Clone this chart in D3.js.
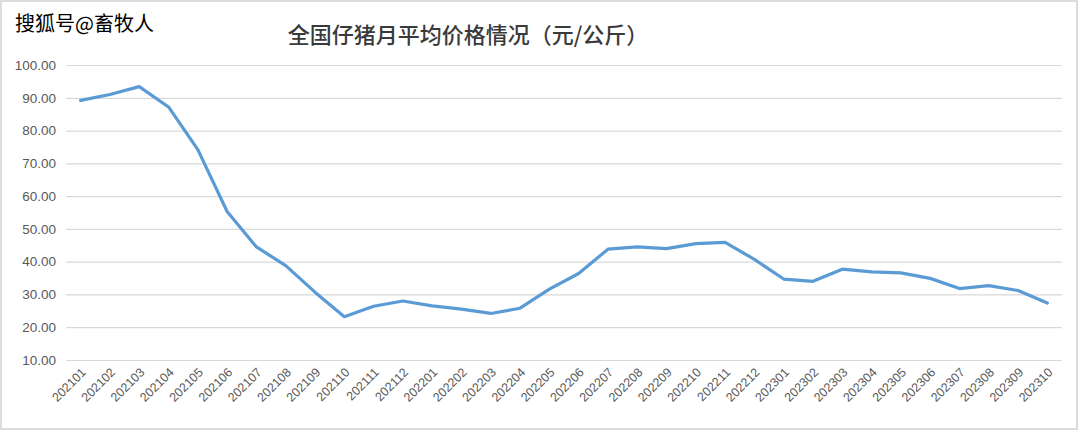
<!DOCTYPE html>
<html>
<head>
<meta charset="utf-8">
<script src="https://cdn.jsdelivr.net/npm/d3@7"></script>
<style>
  html, body { margin: 0; padding: 0; background: #fff; }
  svg { display: block; }
</style>
</head>
<body>
<svg id="chart" width="1080" height="432"></svg>
<script>
const title = "全国仔猪月平均价格情况（元/公斤）";
const watermark = "搜狐号@畜牧人";
const months = ["202101","202102","202103","202104","202105","202106","202107","202108","202109","202110","202111","202112",
  "202201","202202","202203","202204","202205","202206","202207","202208","202209","202210","202211","202212",
  "202301","202302","202303","202304","202305","202306","202307","202308","202309","202310"];
const prices = [89.2, 91.0, 93.4, 87.2, 74.2, 55.3, 44.5, 38.8, 30.7, 23.2, 26.4, 28.0,
  26.5, 25.5, 24.2, 25.8, 31.6, 36.4, 43.8, 44.5, 44.0, 45.5, 45.9, 40.7,
  34.7, 34.0, 37.7, 36.9, 36.6, 34.9, 31.8, 32.7, 31.2, 27.4];
const yTicks = [10, 20, 30, 40, 50, 60, 70, 80, 90, 100];

const svg = d3.select("#chart");
const W = 1080, H = 432;
const plot = { left: 66, right: 1062, top: 65, bottom: 360 };

// outer border
svg.append("rect").attr("x", 1).attr("y", 1).attr("width", W - 4).attr("height", H - 4)
  .attr("fill", "#fff").attr("stroke", "#dcdcdc").attr("stroke-width", 2);

const x = d3.scaleBand().domain(months).range([plot.left, plot.right]).paddingInner(0).paddingOuter(0);
const y = d3.scaleLinear().domain([10, 100]).range([plot.bottom, plot.top]);

// gridlines
const yAxis = d3.axisLeft(y).tickValues(yTicks).tickSize(-(plot.right - plot.left)).tickPadding(10)
  .tickFormat(d3.format(".2f"));
const gy = svg.append("g").attr("transform", `translate(${plot.left},0)`).call(yAxis);
gy.select(".domain").remove();
gy.selectAll(".tick line").attr("stroke", "#d9d9d9").attr("stroke-width", 1.2);
gy.selectAll(".tick text").attr("fill", "#595959").attr("font-family", "Liberation Sans, Arial, sans-serif")
  .attr("font-size", 13.5).attr("dx", 0);

// x labels
const xAxis = d3.axisBottom(x).tickSize(0).tickPadding(0);
const gx = svg.append("g").attr("transform", `translate(0,${plot.bottom})`).call(xAxis);
gx.select(".domain").remove();
gx.selectAll(".tick text")
  .attr("fill", "#595959").attr("font-family", "Liberation Sans, Arial, sans-serif").attr("font-size", 12.5)
  .attr("text-anchor", "end").attr("dy", "0.35em")
  .attr("transform", "translate(3,10) rotate(-45)");

// line
const line = d3.line().x((d, i) => x(months[i]) + x.bandwidth() / 2).y(d => y(d));
svg.append("path").datum(prices).attr("d", line).attr("fill", "none")
  .attr("stroke", "#5b9bd5").attr("stroke-width", 3.2).attr("stroke-linejoin", "round").attr("stroke-linecap", "round");

// title
svg.append("text").attr("x", 468).attr("y", 43).attr("text-anchor", "middle")
  .attr("font-family", "Noto Sans CJK SC, sans-serif").attr("font-size", 22).attr("font-weight", 500)
  .attr("fill", "#3a3a3a")
  .text(title);

// watermark
svg.append("text").attr("x", 15).attr("y", 31)
  .attr("font-family", "Noto Sans CJK SC, sans-serif").attr("font-size", 20).attr("font-weight", 400)
  .attr("fill", "#000").attr("stroke", "#fff").attr("stroke-width", 2).attr("paint-order", "stroke")
  .text(watermark);
</script>
</body>
</html>
